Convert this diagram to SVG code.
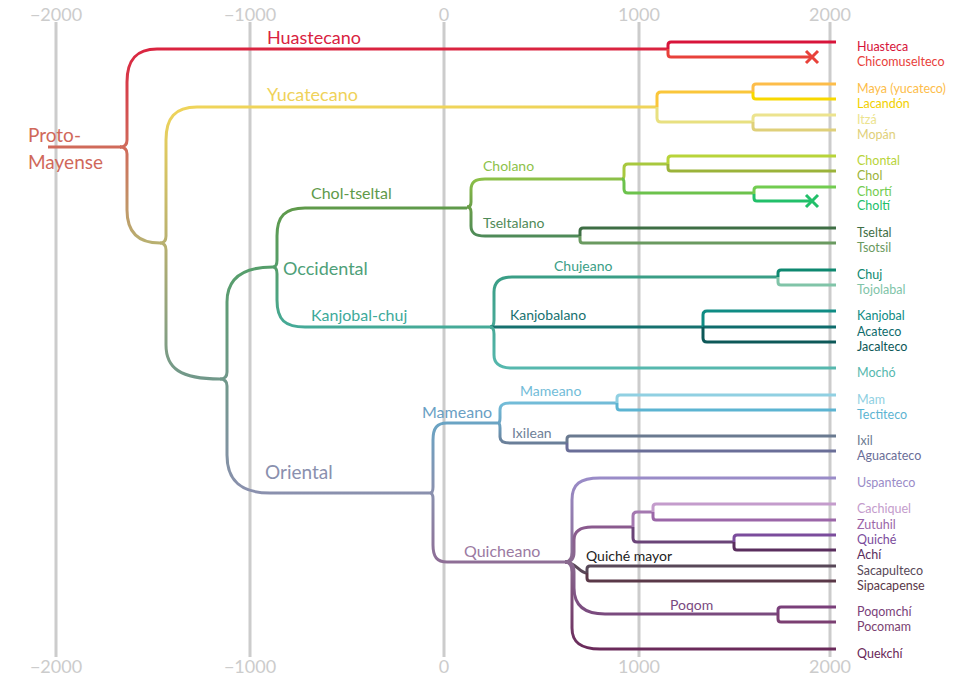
<svg xmlns="http://www.w3.org/2000/svg" width="960" height="679" viewBox="0 0 960 679">
<style>
text{font-family:Lato,"Open Sans","Liberation Sans",sans-serif}
.ax{font-size:18px;fill:#cccccc;text-anchor:middle}
.grid{stroke:#cccccc;stroke-width:3}
.c{fill:none;stroke-width:3;stroke-linejoin:round}
.leaf{font-size:12.5px}
.cl{font-size:14px}
.cm{font-size:16px}
.cb{font-size:18px}
</style>
<defs>
<linearGradient id="gHua" gradientUnits="userSpaceOnUse" x1="0" y1="147" x2="0" y2="49"><stop offset="0" stop-color="#d06a5a"/><stop offset="1" stop-color="#da2440"/></linearGradient>
<linearGradient id="gLow1" gradientUnits="userSpaceOnUse" x1="0" y1="147" x2="0" y2="243"><stop offset="0" stop-color="#d06a5a"/><stop offset="1" stop-color="#b8b070"/></linearGradient>
<linearGradient id="gYuc" gradientUnits="userSpaceOnUse" x1="0" y1="243" x2="0" y2="107"><stop offset="0" stop-color="#b8b070"/><stop offset="1" stop-color="#efd45a"/></linearGradient>
<linearGradient id="gLow2" gradientUnits="userSpaceOnUse" x1="0" y1="243" x2="0" y2="379"><stop offset="0" stop-color="#b8b070"/><stop offset="1" stop-color="#70988a"/></linearGradient>
<linearGradient id="gOcc" gradientUnits="userSpaceOnUse" x1="0" y1="379" x2="0" y2="267"><stop offset="0" stop-color="#70988a"/><stop offset="1" stop-color="#559e6a"/></linearGradient>
<linearGradient id="gOri" gradientUnits="userSpaceOnUse" x1="0" y1="379" x2="0" y2="493"><stop offset="0" stop-color="#70988a"/><stop offset="1" stop-color="#8a90ae"/></linearGradient>
<linearGradient id="gCT" gradientUnits="userSpaceOnUse" x1="0" y1="267" x2="0" y2="208"><stop offset="0" stop-color="#559e6a"/><stop offset="1" stop-color="#5f9a4a"/></linearGradient>
<linearGradient id="gKC" gradientUnits="userSpaceOnUse" x1="0" y1="267" x2="0" y2="327"><stop offset="0" stop-color="#559e6a"/><stop offset="1" stop-color="#45aa98"/></linearGradient>
<linearGradient id="gCho" gradientUnits="userSpaceOnUse" x1="0" y1="207" x2="0" y2="179"><stop offset="0" stop-color="#6a9e48"/><stop offset="1" stop-color="#8cc048"/></linearGradient>
<linearGradient id="gTse" gradientUnits="userSpaceOnUse" x1="0" y1="207" x2="0" y2="236"><stop offset="0" stop-color="#6a9e48"/><stop offset="1" stop-color="#4e8a58"/></linearGradient>
<linearGradient id="gChu" gradientUnits="userSpaceOnUse" x1="0" y1="327" x2="0" y2="277"><stop offset="0" stop-color="#48aa98"/><stop offset="1" stop-color="#3a9e86"/></linearGradient>
<linearGradient id="gMoc" gradientUnits="userSpaceOnUse" x1="0" y1="327" x2="0" y2="368"><stop offset="0" stop-color="#48aa98"/><stop offset="1" stop-color="#56b8ae"/></linearGradient>
<linearGradient id="gMam" gradientUnits="userSpaceOnUse" x1="0" y1="493" x2="0" y2="423"><stop offset="0" stop-color="#8a90ae"/><stop offset="1" stop-color="#6aa4c4"/></linearGradient>
<linearGradient id="gQui" gradientUnits="userSpaceOnUse" x1="0" y1="493" x2="0" y2="562"><stop offset="0" stop-color="#8a90ae"/><stop offset="1" stop-color="#8e6e96"/></linearGradient>
<linearGradient id="gMam2" gradientUnits="userSpaceOnUse" x1="0" y1="423" x2="0" y2="403"><stop offset="0" stop-color="#6aa4c4"/><stop offset="1" stop-color="#72bcd8"/></linearGradient>
<linearGradient id="gIxi" gradientUnits="userSpaceOnUse" x1="0" y1="423" x2="0" y2="443"><stop offset="0" stop-color="#6aa4c4"/><stop offset="1" stop-color="#6a7e98"/></linearGradient>
<linearGradient id="gUsp" gradientUnits="userSpaceOnUse" x1="0" y1="562" x2="0" y2="478"><stop offset="0" stop-color="#8a6a90"/><stop offset="1" stop-color="#9a8cc8"/></linearGradient>
<linearGradient id="gCak" gradientUnits="userSpaceOnUse" x1="0" y1="562" x2="0" y2="527"><stop offset="0" stop-color="#8a6a90"/><stop offset="1" stop-color="#8a5a8e"/></linearGradient>
<linearGradient id="gPoq" gradientUnits="userSpaceOnUse" x1="0" y1="562" x2="0" y2="614"><stop offset="0" stop-color="#8a6a90"/><stop offset="1" stop-color="#7a4a7e"/></linearGradient>
<linearGradient id="gQek" gradientUnits="userSpaceOnUse" x1="0" y1="562" x2="0" y2="649"><stop offset="0" stop-color="#8a6a90"/><stop offset="1" stop-color="#6a2a5a"/></linearGradient>
</defs>
<rect width="960" height="679" fill="#ffffff"/>
<g id="axis">
<line class="grid" x1="56" y1="22" x2="56" y2="657"/>
<line class="grid" x1="250" y1="22" x2="250" y2="657"/>
<line class="grid" x1="444" y1="22" x2="444" y2="657"/>
<line class="grid" x1="639" y1="22" x2="639" y2="657"/>
<line class="grid" x1="830" y1="22" x2="830" y2="657"/>
<text class="ax" x="56" y="21">−2000</text>
<text class="ax" x="250" y="21">−1000</text>
<text class="ax" x="444" y="21">0</text>
<text class="ax" x="639" y="21">1000</text>
<text class="ax" x="830" y="21">2000</text>
<text class="ax" x="56" y="673">−2000</text>
<text class="ax" x="250" y="673">−1000</text>
<text class="ax" x="444" y="673">0</text>
<text class="ax" x="639" y="673">1000</text>
<text class="ax" x="830" y="673">2000</text>
</g>
<g id="connectors">
<path class="c" stroke="#d06a5a" d="M48,147 H121"/>
<path class="c" stroke="url(#gHua)" d="M120,147 Q127,147 127,140 V82 C127,60 136,49 157,49 H668"/>
<path class="c" stroke="url(#gLow1)" d="M120,147 Q127,147 127,154 V210 C127,232 138,243 160,243"/>
<path class="c" stroke="url(#gYuc)" d="M160,243 Q166,243 166,236 V140 C166,118 175,107 197,107 H657"/>
<path class="c" stroke="url(#gLow2)" d="M160,243 Q166,243 166,250 V345 C166,368 180,379 220,379"/>
<path class="c" stroke="url(#gOcc)" d="M220,379 Q227,379 227,372 V302 C227,280 240,267 273,267"/>
<path class="c" stroke="url(#gOri)" d="M220,379 Q227,379 227,386 V455 C227,480 240,493 270,493 H430"/>
<path class="c" stroke="url(#gCT)" d="M273,267 Q277,267 277,260 V236 C277,216 285,208 305,208 H467"/>
<path class="c" stroke="url(#gKC)" d="M273,267 Q277,267 277,274 V300 C277,320 285,327 305,327 H490"/>
<path class="c" stroke="url(#gCho)" d="M467,207 Q471,207 471,202 V190 C471,182 475,179 485,179 H622"/>
<path class="c" stroke="url(#gTse)" d="M467,207 Q471,207 471,212 V226 C471,233 475,236 485,236 H580"/>
<path class="c" stroke="url(#gChu)" d="M490,327 Q494,327 494,320 V292 C494,282 500,277 512,277 H778"/>
<path class="c" stroke="#16716f" d="M490,327 H703"/>
<path class="c" stroke="url(#gMoc)" d="M490,327 Q494,327 494,334 V355 C494,364 500,368 512,368 H836"/>
<path class="c" stroke="url(#gMam)" d="M430,493 Q433,493 433,487 V440 C433,428 437,423 447,423 H498"/>
<path class="c" stroke="url(#gQui)" d="M430,493 Q433,493 433,499 V545 C433,557 437,562 447,562 H565"/>
<path class="c" stroke="url(#gMam2)" d="M498,423 Q500,423 500,418 V410 C500,405 503,403 510,403 H617"/>
<path class="c" stroke="url(#gIxi)" d="M498,423 Q500,423 500,428 V437 C500,441 503,443 510,443 H567"/>
<path class="c" stroke="url(#gUsp)" d="M565,562 Q572,562 572,552 V500 C572,484 580,478 600,478 H836"/>
<path class="c" stroke="url(#gCak)" d="M565,562 Q574,562 574,552 V540 C574,531 580,527 592,527 H633"/>
<path class="c" stroke="#5a4858" d="M565,562 C576,562 579,573 587,573"/>
<path class="c" stroke="url(#gPoq)" d="M565,562 Q574,562 574,572 V588 C574,606 585,614 605,614 H778"/>
<path class="c" stroke="url(#gQek)" d="M565,562 Q572,562 572,572 V628 C572,642 580,649 600,649 H836"/>
<!-- Huastecano bracket -->
<path class="c" stroke="#d8143a" d="M668,49 V45 Q668,42 671,42 H836"/>
<path class="c" stroke="#e8413a" d="M668,49 V54 Q668,57 671,57 H812"/>
<path class="c" stroke="#e8413a" stroke-width="2.5" d="M806,51 L818,63 M806,63 L818,51"/>
<!-- Yucatecano -->
<path class="c" stroke="#fac63a" d="M657,107 V96 Q657,92 661,92 H753"/>
<path class="c" stroke="#e8e080" d="M657,107 V118 Q657,122 661,122 H753"/>
<path class="c" stroke="#fdbd4a" d="M753,92 V87 Q753,84 756,84 H836"/>
<path class="c" stroke="#f8d800" d="M753,92 V96 Q753,99 756,99 H836"/>
<path class="c" stroke="#ece38e" d="M753,122 V118 Q753,115 756,115 H836"/>
<path class="c" stroke="#dfd07a" d="M753,122 V127 Q753,130 756,130 H836"/>
<!-- Cholano -->
<path class="c" stroke="#a8c83e" d="M622,179 Q624,179 624,175 V168 Q624,164 628,164 H668"/>
<path class="c" stroke="#6cc24c" d="M622,179 Q624,179 624,183 V189 Q624,193 628,193 H754"/>
<path class="c" stroke="#b8d43a" d="M668,164 V159 Q668,156 671,156 H836"/>
<path class="c" stroke="#9bb33a" d="M668,164 V168 Q668,171 671,171 H836"/>
<path class="c" stroke="#72cc50" d="M754,194 V190 Q754,187 757,187 H836"/>
<path class="c" stroke="#22c06a" d="M754,194 V198 Q754,201 757,201 H812"/>
<path class="c" stroke="#22c06a" stroke-width="2.5" d="M806,195 L818,207 M806,207 L818,195"/>
<!-- Tseltalano -->
<path class="c" stroke="#3e6e44" d="M580,236 V231 Q580,228 583,228 H836"/>
<path class="c" stroke="#6a9a60" d="M580,236 V240 Q580,243 583,243 H836"/>
<!-- Chujeano -->
<path class="c" stroke="#0e8870" d="M778,277 V273 Q778,270 781,270 H836"/>
<path class="c" stroke="#80c4a8" d="M778,277 V282 Q778,285 781,285 H836"/>
<!-- Kanjobalano -->
<path class="c" stroke="#0f8c84" d="M703,327 V315 Q703,311 707,311 H836"/>
<path class="c" stroke="#0e6c6c" d="M703,327 H836"/>
<path class="c" stroke="#0d5858" d="M703,327 V338 Q703,342 707,342 H836"/>
<!-- Mameano -->
<path class="c" stroke="#90d0e2" d="M617,403 V398 Q617,395 620,395 H836"/>
<path class="c" stroke="#5cb4d2" d="M617,403 V407 Q617,410 620,410 H836"/>
<!-- Ixilean -->
<path class="c" stroke="#6a7a90" d="M567,443 V439 Q567,436 570,436 H836"/>
<path class="c" stroke="#6a6e98" d="M567,443 V448 Q567,451 570,451 H836"/>
<!-- Quiche group -->
<path class="c" stroke="#a478b0" d="M633,527 V516 Q633,512 637,512 H653"/>
<path class="c" stroke="#6a4478" d="M633,527 V538 Q633,542 637,542 H734"/>
<path class="c" stroke="#c49ccc" d="M653,512 V507 Q653,504 656,504 H836"/>
<path class="c" stroke="#9b66a8" d="M653,512 V517 Q653,520 656,520 H836"/>
<path class="c" stroke="#7b4c9c" d="M734,542 V538 Q734,535 737,535 H836"/>
<path class="c" stroke="#5a2e5e" d="M734,542 V547 Q734,550 737,550 H836"/>
<path class="c" stroke="#584858" d="M587,573 V569 Q587,566 590,566 H836"/>
<path class="c" stroke="#5a3848" d="M587,573 V578 Q587,581 590,581 H836"/>
<path class="c" stroke="#7a3f7a" d="M778,614 V610 Q778,607 781,607 H836"/>
<path class="c" stroke="#7b3f72" d="M778,614 V619 Q778,622 781,622 H836"/>
</g>
<g id="proto-mayense"><text class="cb" x="28" y="142" font-size="19" fill="#d0685a" style="font-size:19px">Proto-</text><text x="28" y="169" fill="#d0685a" style="font-size:19px">Mayense</text></g>
<g id="huastecano"><text class="cb" x="267" y="44" fill="#d9223f">Huastecano</text></g>
<g id="yucatecano"><text class="cb" x="267" y="101" fill="#efd25a">Yucatecano</text></g>
<g id="chol-tseltal"><text class="cm" x="311" y="199" fill="#5f9a4a">Chol-tseltal</text></g>
<g id="occidental"><text class="cb" x="283" y="275" fill="#4ea078">Occidental</text></g>
<g id="kanjobal-chuj"><text class="cm" x="311" y="321" fill="#3daa9a">Kanjobal-chuj</text></g>
<g id="oriental"><text class="cb" x="265" y="479" fill="#8a90ae" style="font-size:19px">Oriental</text></g>
<g id="cholano"><text class="cl" x="483" y="171" fill="#8dc24a">Cholano</text></g>
<g id="tseltalano"><text class="cl" x="483" y="228" fill="#4f8a58">Tseltalano</text></g>
<g id="chujeano"><text class="cl" x="554" y="271" fill="#3a9e86">Chujeano</text></g>
<g id="kanjobalano"><text class="cl" x="510" y="320" fill="#16716f">Kanjobalano</text></g>
<g id="mameano-oriental"><text class="cm" x="422" y="418" fill="#6aa0c4">Mameano</text></g>
<g id="mameano"><text class="cl" x="520" y="396" fill="#72bcd8">Mameano</text></g>
<g id="ixilean"><text class="cl" x="512" y="438" fill="#6e8098">Ixilean</text></g>
<g id="quicheano"><text class="cm" x="464" y="557" fill="#9b7aa2">Quicheano</text></g>
<g id="quiche-mayor"><text class="cl" x="586" y="561" fill="#222222">Quiché mayor</text></g>
<g id="poqom"><text class="cl" x="670" y="610" fill="#7a4a80">Poqom</text></g>
<g id="leaves" class="leaf">
<text x="857" y="50.5" fill="#d6123a">Huasteca</text>
<text x="857" y="65.5" fill="#e8413a">Chicomuselteco</text>
<text x="857" y="92.5" fill="#fdbd4a">Maya (yucateco)</text>
<text x="857" y="107.5" fill="#f2d000">Lacandón</text>
<text x="857" y="123.5" fill="#ece38e">Itzá</text>
<text x="857" y="138.5" fill="#dfd07a">Mopán</text>
<text x="857" y="164.5" fill="#b8d43a">Chontal</text>
<text x="857" y="179.5" fill="#9bb33a">Chol</text>
<text x="857" y="195.5" fill="#72cc50">Chortí</text>
<text x="857" y="209.5" fill="#22c06a">Choltí</text>
<text x="857" y="236.5" fill="#3e6e44">Tseltal</text>
<text x="857" y="251.5" fill="#6a9a60">Tsotsil</text>
<text x="857" y="278.5" fill="#0e8870">Chuj</text>
<text x="857" y="293.5" fill="#80c4a8">Tojolabal</text>
<text x="857" y="319.5" fill="#0f8c84">Kanjobal</text>
<text x="857" y="335.5" fill="#0e6c6c">Acateco</text>
<text x="857" y="350.5" fill="#0d5858">Jacalteco</text>
<text x="857" y="376.5" fill="#56b8ae">Mochó</text>
<text x="857" y="403.5" fill="#90d0e2">Mam</text>
<text x="857" y="418.5" fill="#5cb4d2">Tectiteco</text>
<text x="857" y="444.5" fill="#6a7a90">Ixil</text>
<text x="857" y="459.5" fill="#6a6e98">Aguacateco</text>
<text x="857" y="486.5" fill="#9a8cc8">Uspanteco</text>
<text x="857" y="512.5" fill="#c49ccc">Cachiquel</text>
<text x="857" y="528.5" fill="#9b66a8">Zutuhil</text>
<text x="857" y="543.5" fill="#7b4c9c">Quiché</text>
<text x="857" y="558.5" fill="#5a2e5e">Achí</text>
<text x="857" y="574.5" fill="#584858">Sacapulteco</text>
<text x="857" y="589.5" fill="#5a3848">Sipacapense</text>
<text x="857" y="615.5" fill="#7a3f7a">Poqomchí</text>
<text x="857" y="630.5" fill="#7b3f72">Pocomam</text>
<text x="857" y="657.5" fill="#6a2858">Quekchí</text>
</g>
</svg>
